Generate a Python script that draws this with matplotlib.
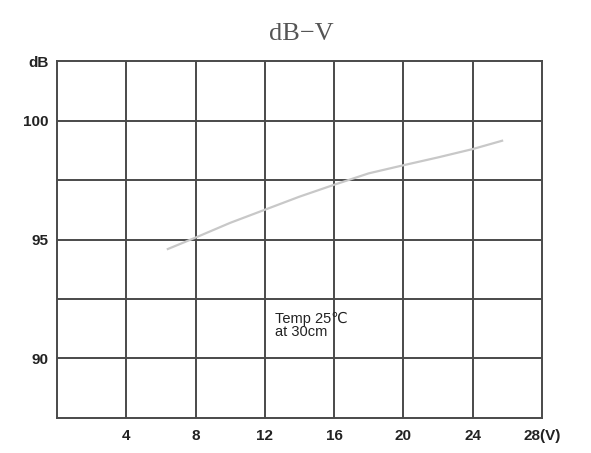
import matplotlib
matplotlib.use("Agg")
import matplotlib.pyplot as plt

# data
volts = [6.4, 8, 10, 12, 14, 16, 18, 20, 22, 24, 25.7]
db = [94.6, 95.08, 95.7, 96.25, 96.8, 97.3, 97.78, 98.12, 98.45, 98.8, 99.15]
x_ticks = [4, 8, 12, 16, 20, 24, 28]
x_labels = ["4", "8", "12", "16", "20", "24", "28(V)"]
y_ticks = [90, 95, 100, 102.5]
y_labels = ["90", "95", "100", "dB"]
x_grid = [4, 8, 12, 16, 20, 24]
y_grid = [90, 92.5, 95, 97.5, 100]

fig = plt.figure(figsize=(5.91, 4.53), dpi=100)
ax = fig.add_axes([0.0964, 0.0773, 0.8206, 0.788])
ax.set_xlim(0, 28)
ax.set_ylim(87.5, 102.5)

gc = "#4a4a4a"
for xv in x_grid:
    ax.axvline(xv, color=gc, linewidth=1.4, zorder=1)
for yv in y_grid:
    ax.axhline(yv, color=gc, linewidth=1.4, zorder=1)
for s in ax.spines.values():
    s.set_color(gc)
    s.set_linewidth(1.4)

ax.plot(volts, db, color="#c8c8c8", linewidth=1.6, zorder=3)

ax.set_xticks(x_ticks)
ax.set_xticklabels(x_labels)
ax.set_yticks(y_ticks)
ax.set_yticklabels(y_labels)
ax.tick_params(axis="both", which="both", length=0, labelsize=11, colors="#222222")
ax.tick_params(axis="x", pad=8)
ax.tick_params(axis="y", pad=6)
for lab in ax.get_xticklabels() + ax.get_yticklabels():
    lab.set_family("Liberation Sans")
    lab.set_fontweight("bold")
ax.get_xticklabels()[-1].set_x(28.6)

ax.text(12.6, 91.95, "Temp 25\u2103\nat 30cm", fontsize=10.5, family=["Liberation Sans", "DejaVu Sans"],
        color="#222222", va="top", ha="left", linespacing=0.85, zorder=4)

fig.text(0.51, 0.925, "dB\u2212V", fontsize=19, family="Liberation Serif",
         color="#555555", ha="center", va="center")

fig.savefig("out.png", dpi=100)
